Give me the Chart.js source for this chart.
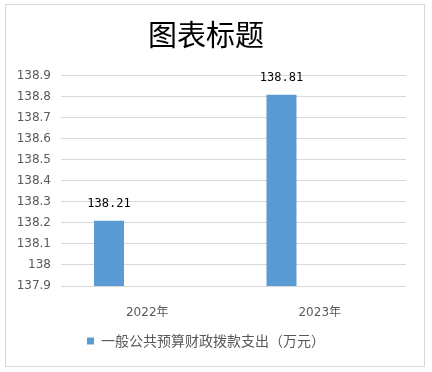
<!DOCTYPE html>
<html><head><meta charset="utf-8">
<script src="https://cdn.jsdelivr.net/npm/chart.js@4/dist/chart.umd.min.js"></script>
<style>
html,body{margin:0;padding:0;background:#fff;}
#box{position:absolute;left:5px;top:4px;width:418px;height:361px;border:1px solid #d9d9d9;background:#fff;}
canvas{display:block;}
</style></head>
<body>
<div id="box"><canvas id="c" width="418" height="361"></canvas></div>
<script>
const categories = ["2022年", "2023年"];
const seriesName = "一般公共预算财政拨款支出（万元）";
const seriesValues = [138.21, 138.81];
const emptySeries = [null, null];
const chartTitle = "图表标题";
const yMin = 137.9, yMax = 138.9, yStep = 0.1;

const labelPlugin = {
  id: 'barLabels',
  afterDatasetsDraw(chart) {
    const ctx = chart.ctx;
    const meta = chart.getDatasetMeta(0);
    ctx.save();
    ctx.font = '12px "DejaVu Sans Mono"';
    ctx.fillStyle = '#000';
    ctx.textAlign = 'center';
    ctx.textBaseline = 'bottom';
    meta.data.forEach((el, i) => {
      const v = chart.data.datasets[0].data[i];
      if (v == null) return;
      ctx.fillText(v.toFixed(2), el.x, el.y - 11);
    });
    ctx.restore();
  }
};

new Chart(document.getElementById('c'), {
  type: 'bar',
  data: {
    labels: categories,
    datasets: [
      { label: seriesName, data: seriesValues, backgroundColor: '#5B9BD5', categoryPercentage: 0.887, barPercentage: 0.392 },
      { label: '', data: emptySeries, backgroundColor: '#ED7D31', categoryPercentage: 0.887, barPercentage: 0.392 }
    ]
  },
  options: {
    responsive: false,
    animation: false,
    layout: { padding: { top: 0, right: 18, bottom: 8, left: 0 } },
    plugins: {
      title: {
        display: true, text: chartTitle, color: '#000',
        font: { family: '"Noto Sans CJK SC"', size: 29, weight: 'normal', lineHeight: 1.2 },
        padding: { top: 13, bottom: 23 }
      },
      legend: {
        position: 'bottom',
        labels: {
          filter: item => item.datasetIndex === 0,
          boxWidth: 7, boxHeight: 7, color: '#595959', padding: 10,
          font: { family: '"Noto Sans CJK SC"', size: 14 }
        }
      },
      tooltip: { enabled: false }
    },
    scales: {
      x: {
        grid: { display: false },
        border: { display: false },
        ticks: { color: '#595959', font: { family: '"DejaVu Sans", "Noto Sans CJK SC"', size: 12 }, padding: 12 },
        afterFit(s) { s.height = 38; }
      },
      y: {
        min: yMin, max: yMax,
        grid: { color: '#d9d9d9', drawTicks: false },
        border: { display: false },
        ticks: {
          stepSize: yStep, color: '#595959', font: { family: '"DejaVu Sans"', size: 12 }, padding: 10,
          callback: v => String(Number(v.toFixed(1)))
        },
        afterFit(s) { s.width = 55; }
      }
    }
  },
  plugins: [labelPlugin]
});
</script>
</body></html>
